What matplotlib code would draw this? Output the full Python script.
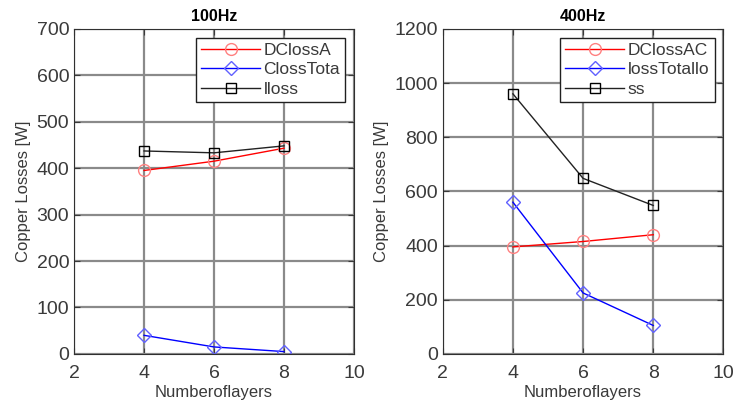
import matplotlib.pyplot as plt

plt.rcParams['font.family'] = ['Liberation Sans', 'DejaVu Sans']

# Data
layers = [4, 6, 8]

dc_100 = [395, 415, 443]
ac_100 = [40, 15, 5]
total_100 = [437, 433, 448]

dc_400 = [395, 415, 440]
ac_400 = [560, 225, 105]
total_400 = [960, 648, 548]

labels_100 = ['DClossA', 'ClossTota', 'lloss']
labels_400 = ['DClossAC', 'lossTotallo', 'ss']

text_col = '#3a3a3a'

fig = plt.figure(figsize=(7.33, 4.12), dpi=100)
ax1 = fig.add_axes([0.101, 0.141, 0.382, 0.789])
ax2 = fig.add_axes([0.604, 0.141, 0.383, 0.789])


def draw(ax, dc, ac, tot, labels, title, ymax, ystep):
    ax.plot(layers, dc, color='red', lw=1, marker='o', ms=8.5, mfc='none',
            mec='#ff8080', label=labels[0])
    ax.plot(layers, ac, color='blue', lw=1, marker='D', ms=7, mfc='none',
            mec='#6060ff', label=labels[1])
    ax.plot(layers, tot, color='#222222', lw=1, marker='s', ms=7.5, mfc='none',
            mec='black', label=labels[2])
    ax.set_xlim(2, 10)
    ax.set_ylim(0, ymax)
    ax.set_xticks([2, 4, 6, 8, 10])
    ax.set_yticks(range(0, ymax + 1, ystep))
    ax.grid(True, color='#8a8a8a', lw=1.6)
    ax.set_axisbelow(True)
    ax.tick_params(labelsize=14, colors=text_col, direction='in', length=4,
                   top=True, right=True)
    ax.tick_params(axis='x', pad=8)
    for s in ax.spines.values():
        s.set_color('#303030')
    ax.set_title(title, fontsize=11.5, fontweight='bold', pad=6)
    ax.set_xlabel('Numberoflayers', fontsize=12, color=text_col, labelpad=2)
    ax.set_ylabel('Copper Losses [W]', fontsize=12, color=text_col, labelpad=4)
    leg = ax.legend(loc='upper right', fontsize=12.5, fancybox=False,
                    edgecolor='#202020', framealpha=1, handlelength=3.4,
                    borderaxespad=0.5, labelspacing=0.25, handletextpad=0.2,
                    borderpad=0.3)
    leg.get_frame().set_linewidth(1)
    for t in leg.get_texts():
        t.set_color(text_col)


draw(ax1, dc_100, ac_100, total_100, labels_100, '100Hz', 700, 100)
draw(ax2, dc_400, ac_400, total_400, labels_400, '400Hz', 1200, 200)

fig.savefig('out.png', dpi=100)
